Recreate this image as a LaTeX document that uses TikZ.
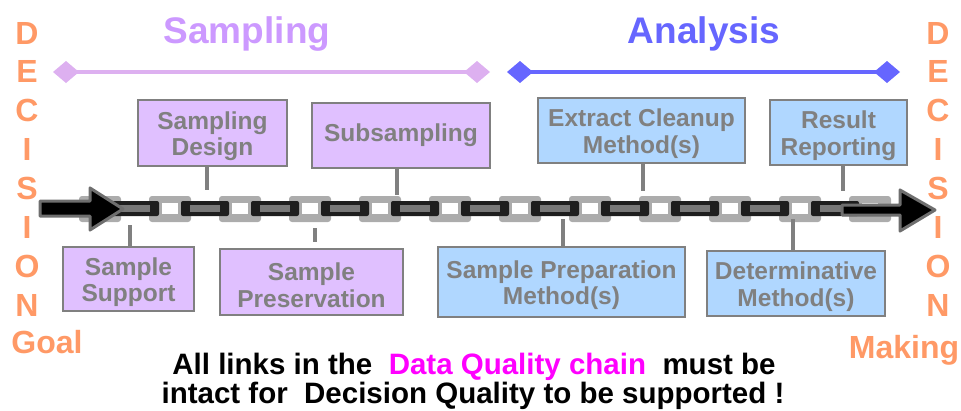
\documentclass[tikz,border=0pt]{standalone}
\usepackage{fontspec}
\setmainfont{Liberation Sans}
\usetikzlibrary{arrows.meta}
\definecolor{boxgray}{RGB}{128,128,128}
\definecolor{arrgray}{RGB}{110,110,110}
\definecolor{purp}{RGB}{224,192,255}
\definecolor{blu}{RGB}{176,215,255}
\definecolor{sampt}{RGB}{204,153,255}
\definecolor{sampl}{RGB}{221,176,240}
\definecolor{anat}{RGB}{102,102,255}
\definecolor{orng}{RGB}{255,153,102}
\definecolor{mag}{RGB}{255,0,255}
\definecolor{lnk}{RGB}{172,172,172}
\definecolor{lnkmid}{RGB}{120,120,120}
\definecolor{lnkdark}{RGB}{30,30,30}
\newcommand\toppad{\rule{0pt}{24pt}}
\begin{document}
\begin{tikzpicture}[x=1pt,y=-1pt,
  box/.style={draw=boxgray, line width=2.5pt, text=boxgray,
    font=\bfseries\fontsize{24.5}{26.5}\selectfont, align=center, inner sep=0pt},
  conn/.style={draw=boxgray, line width=4pt},
  letter/.style={text=orng, font=\bfseries\fontsize{32}{32}\selectfont, inner sep=0pt},
  title/.style={font=\bfseries\fontsize{37}{37}\selectfont, inner sep=0pt, anchor=base},
  msg/.style={font=\bfseries\fontsize{29.5}{30}\selectfont, inner sep=0pt, anchor=base},
  bigarrow/.style={draw=arrgray, fill=black, line width=3pt, line join=round},
  diamondline/.style={line width=4pt, {Diamond[length=26pt,width=22pt]}-{Diamond[length=26pt,width=22pt]}}
]
\useasboundingbox (0,0) rectangle (961,410);

% side words
\foreach \l [count=\i from 0] in {D,E,C,I,S,I,O,N} {
  \node[letter] (L\i) at (27,33+38.9*\i) {\l};
  \node[letter] (R\i) at (938,33+38.9*\i) {\l};
}
\node[letter, anchor=base] (goal) at (47,353) {Goal};
\node[letter, anchor=base] (making) at (904,358) {Making};

% titles
\node[title, text=sampt] (samp) at (247,43) {Sampling};
\node[title, text=anat] (ana) at (704,43) {Analysis};
\coordinate (sl) at (53,72);
\coordinate (sr) at (490,72);
\coordinate (al) at (507,72);
\coordinate (ar) at (900,72);
\draw[diamondline, sampl] (sl) -- (sr);
\draw[diamondline, anat] (al) -- (ar);

% chain
\foreach \c in {100,170,...,870} {
  \fill[lnk, rounded corners=3pt] (\c-21,196) rectangle (\c+21,222);
  \fill[white] (\c-8,203) rectangle (\c+8,214);
}
\foreach \c in {65,135,...,835} {
  \fill[lnkdark, rounded corners=2pt] (\c-24,201) rectangle (\c+24,216);
  \fill[lnkmid] (\c-15,205) rectangle (\c+15,212);
}

% arrows
\draw[bigarrow] (40,201) -- (90,201) -- (90,188) -- (123,209) -- (90,230) -- (90,216) -- (40,216) -- cycle;
\draw[bigarrow] (842,205) -- (900,205) -- (900,190) -- (935,210) -- (900,231) -- (900,215) -- (842,215) -- cycle;

% boxes
\node[box, fill=purp, minimum width=149pt, minimum height=66pt] (design) at (212.5,133) {\toppad Sampling\\Design};
\node[box, fill=purp, minimum width=178pt, minimum height=65pt] (subs) at (401,135.5) {Subsampling};
\node[box, fill=blu, minimum width=207pt, minimum height=65pt] (extract) at (641.5,130.5) {\toppad Extract Cleanup\\Method(s)};
\node[box, fill=blu, minimum width=137pt, minimum height=65pt] (result) at (838.5,132.5) {\toppad Result\\Reporting};
\node[box, fill=purp, minimum width=131pt, minimum height=64pt] (support) at (128.5,279) {\toppad Sample\\Support};
\node[box, fill=purp, minimum width=183pt, minimum height=66pt] (pres) at (311.5,282) {\toppad Sample\\Preservation};
\node[box, fill=blu, minimum width=247pt, minimum height=70pt] (prep) at (561.5,282) {\toppad Sample Preparation\\Method(s)};
\node[box, fill=blu, minimum width=178pt, minimum height=65pt] (determ) at (796,283.5) {\toppad Determinative\\Method(s)};

% connectors
\coordinate (c1) at (207,190);
\coordinate (c2) at (397,195);
\coordinate (c3) at (643,191);
\coordinate (c4) at (843,191);
\coordinate (c5) at (130,225);
\coordinate (c6a) at (315,228);
\coordinate (c6b) at (315,242);
\coordinate (c7) at (563,219);
\coordinate (c8) at (793,219);
\draw[conn] (design.south -| c1) -- (c1);
\draw[conn] (subs.south -| c2) -- (c2);
\draw[conn] (extract.south -| c3) -- (c3);
\draw[conn] (result.south -| c4) -- (c4);
\draw[conn] (support.north -| c5) -- (c5);
\draw[conn] (c6a) -- (c6b);
\draw[conn] (prep.north -| c7) -- (c7);
\draw[conn] (determ.north -| c8) -- (c8);

% message
\node[msg] (msg1) at (474,374) {All links in the\ \ \textcolor{mag}{Data Quality chain}\ \ must be};
\node[msg] (msg2) at (473,403) {intact for\ \ Decision Quality to be supported !};
\end{tikzpicture}
\end{document}
